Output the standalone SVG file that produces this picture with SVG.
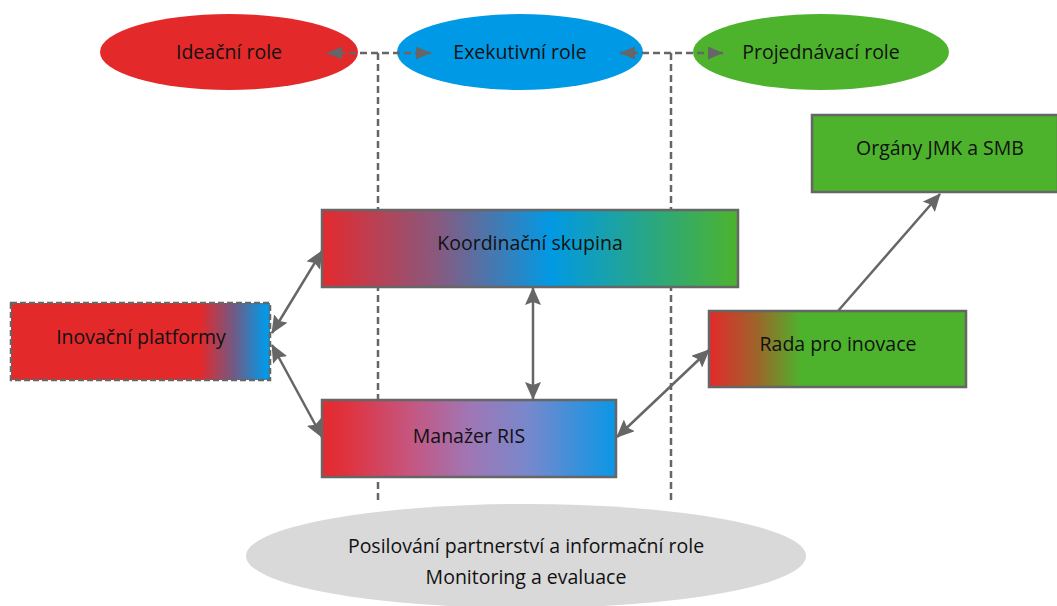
<svg xmlns="http://www.w3.org/2000/svg" width="1057" height="606" viewBox="0 0 1057 606">
<defs>
<style>
text{font-family:"Open Sans","Noto Sans","Liberation Sans",sans-serif;font-size:19.5px;fill:#111;text-anchor:middle}
.box{stroke:#666;stroke-width:2.5}
.conn{stroke:#666;stroke-width:2.5;fill:none}
.dash{stroke:#666;stroke-width:2.5;fill:none;stroke-dasharray:7 4}
</style>
<marker id="ah" markerUnits="userSpaceOnUse" markerWidth="18" markerHeight="16" refX="17" refY="8" orient="auto-start-reverse" viewBox="0 0 18 16">
<path d="M0,0 L18,8 L0,16 L3,8 z" fill="#666"/>
</marker>
<marker id="ahd" markerUnits="userSpaceOnUse" markerWidth="15" markerHeight="13" refX="15" refY="6.5" orient="auto-start-reverse" viewBox="0 0 15 13">
<path d="M0,0 L15,6.5 L0,13 z" fill="#666"/>
</marker>
<linearGradient id="gKoord" x1="0" y1="0" x2="1" y2="0">
<stop offset="0" stop-color="#E42A2E"/>
<stop offset="0.28" stop-color="#875A80"/>
<stop offset="0.55" stop-color="#0199E4"/>
<stop offset="1" stop-color="#4DB32D"/>
</linearGradient>
<linearGradient id="gMan" x1="0" y1="0" x2="1" y2="0">
<stop offset="0" stop-color="#E42A2E"/>
<stop offset="0.08" stop-color="#E0323D"/>
<stop offset="0.3" stop-color="#C55680"/>
<stop offset="0.5" stop-color="#A076B4"/>
<stop offset="0.7" stop-color="#7888CC"/>
<stop offset="1" stop-color="#0997E6"/>
</linearGradient>
<linearGradient id="gPlat" x1="0" y1="0" x2="1" y2="0">
<stop offset="0" stop-color="#E4292B"/>
<stop offset="0.73" stop-color="#E4292B"/>
<stop offset="0.86" stop-color="#715A84"/>
<stop offset="0.98" stop-color="#0797E4"/>
<stop offset="1" stop-color="#0797E4"/>
</linearGradient>
<linearGradient id="gRada" x1="0" y1="0" x2="1" y2="0">
<stop offset="0" stop-color="#E4292B"/>
<stop offset="0.18" stop-color="#A0622B"/>
<stop offset="0.36" stop-color="#4DB32D"/>
<stop offset="1" stop-color="#4DB32D"/>
</linearGradient>
</defs>

<g id="role-ideacni">
<ellipse cx="229" cy="52" rx="129" ry="38" fill="#E4292B"/>
<text x="229" y="59">Ideační role</text>
</g>
<g id="role-exekutivni">
<ellipse cx="520" cy="52" rx="123" ry="38" fill="#0099E5"/>
<text x="520" y="59">Exekutivní role</text>
</g>
<g id="role-projednavaci">
<ellipse cx="821" cy="52" rx="128" ry="38" fill="#4DB32D"/>
<text x="821" y="59">Projednávací role</text>
</g>

<g id="connectors">
<line class="dash" x1="378" y1="53" x2="378" y2="502"/>
<line class="dash" x1="671" y1="53" x2="671" y2="502"/>
<line class="dash" x1="327" y1="53" x2="431" y2="53" marker-start="url(#ahd)" marker-end="url(#ahd)"/>
<line class="dash" x1="620" y1="53" x2="723" y2="53" marker-start="url(#ahd)" marker-end="url(#ahd)"/>
<line class="conn" x1="272" y1="333" x2="322" y2="251" marker-start="url(#ah)" marker-end="url(#ah)"/>
<line class="conn" x1="272" y1="345" x2="322" y2="437" marker-start="url(#ah)" marker-end="url(#ah)"/>
<line class="conn" x1="533" y1="288" x2="533" y2="399" marker-start="url(#ah)" marker-end="url(#ah)"/>
<line class="conn" x1="617" y1="437" x2="709" y2="350" marker-start="url(#ah)" marker-end="url(#ah)"/>
<line class="conn" x1="838" y1="311" x2="940" y2="194" marker-end="url(#ah)"/>
</g>

<g id="koordinacni-skupina">
<rect class="box" x="322" y="210" width="416" height="77" fill="url(#gKoord)"/>
<text x="530" y="250">Koordinační skupina</text>
</g>
<g id="inovacni-platformy">
<rect x="11" y="303" width="259" height="77" fill="url(#gPlat)" stroke="#666" stroke-width="2.5" stroke-dasharray="6 3"/>
<text x="141" y="344">Inovační platformy</text>
</g>
<g id="manazer-ris">
<rect class="box" x="322" y="400" width="294" height="77" fill="url(#gMan)"/>
<text x="469" y="443">Manažer RIS</text>
</g>
<g id="rada-pro-inovace">
<rect class="box" x="709" y="311" width="257" height="76" fill="url(#gRada)"/>
<text x="838" y="351">Rada pro inovace</text>
</g>
<g id="organy-jmk-smb">
<rect class="box" x="812" y="115" width="246" height="77" fill="#4DB32D"/>
<text x="940" y="155">Orgány JMK a SMB</text>
</g>
<g id="posilovani">
<ellipse cx="526" cy="556" rx="280" ry="52" fill="#D9D9D9"/>
<text x="526" y="553">Posilování partnerství a informační role</text>
<text x="526" y="584">Monitoring a evaluace</text>
</g>
</svg>
